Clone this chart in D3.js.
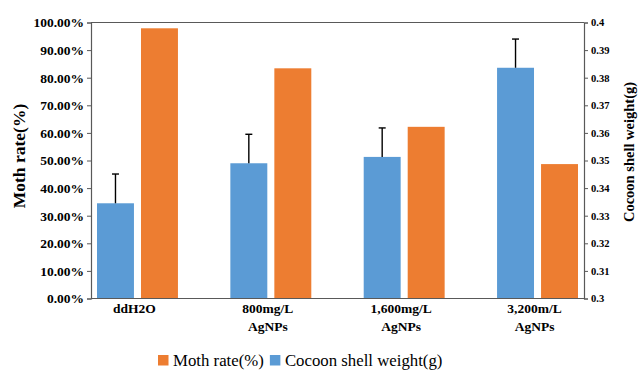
<!DOCTYPE html>
<html>
<head>
<meta charset="utf-8">
<script src="https://cdn.jsdelivr.net/npm/d3@7"></script>
<style>
  body { margin: 0; background: #fff; }
  svg { display: block; font-family: "Liberation Serif", "Times New Roman", serif; }
</style>
</head>
<body>
<div id="chart"></div>
<script>
// data
const categories = ["ddH2O", "800mg/L\nAgNPs", "1,600mg/L\nAgNPs", "3,200m/L\nAgNPs"];
const mothRate = [97.9, 83.4, 62.2, 48.7];               // %
const shellWeight = [0.3345, 0.349, 0.3513, 0.3836];     // g
const shellErr = [0.0106, 0.0105, 0.0105, 0.0104];
const leftTicks = [0, 10, 20, 30, 40, 50, 60, 70, 80, 90, 100];
const rightTicks = [0.3, 0.31, 0.32, 0.33, 0.34, 0.35, 0.36, 0.37, 0.38, 0.39, 0.4];

const blue = "#5B9BD5", orange = "#ED7D31", axisCol = "#595959";
const W = 639, H = 370;
const m = {top: 22.5, right: 55, bottom: 71.5, left: 91};

const svg = d3.select("#chart").append("svg")
    .attr("width", W).attr("height", H);

const x0 = d3.scaleBand()
    .domain(categories)
    .range([m.left, W - m.right])
    .paddingInner(0.393)
    .paddingOuter(0.045);

const x1 = d3.scaleBand()
    .domain(["weight", "moth"])
    .range([0, x0.bandwidth()])
    .paddingInner(0.16);

const yL = d3.scaleLinear().domain([0, 100]).range([H - m.bottom, m.top]);
const yR = d3.scaleLinear().domain([0.3, 0.4]).range([H - m.bottom, m.top]);

const rows = categories.map((c, i) => ({c, moth: mothRate[i], w: shellWeight[i], e: shellErr[i]}));

// bars
const g = svg.append("g").selectAll("g")
    .data(rows)
    .enter()
    .append("g")
    .attr("transform", d => `translate(${x0(d.c)},0)`);

g.append("rect")
    .attr("x", x1("weight"))
    .attr("width", x1.bandwidth())
    .attr("y", d => yR(d.w))
    .attr("height", d => yR(0.3) - yR(d.w))
    .attr("fill", blue);

g.append("rect")
    .attr("x", x1("moth"))
    .attr("width", x1.bandwidth())
    .attr("y", d => yL(d.moth))
    .attr("height", d => yL(0) - yL(d.moth))
    .attr("fill", orange);

// error bars
const cx = x1("weight") + x1.bandwidth() / 2;
g.append("line")
    .attr("x1", cx).attr("x2", cx)
    .attr("y1", d => yR(d.w))
    .attr("y2", d => yR(d.w + d.e))
    .attr("stroke", "#000").attr("stroke-width", 1.4);
g.append("line")
    .attr("x1", cx - 3.5).attr("x2", cx + 3.5)
    .attr("y1", d => yR(d.w + d.e))
    .attr("y2", d => yR(d.w + d.e))
    .attr("stroke", "#000").attr("stroke-width", 1.4);

// top frame line
svg.append("line")
    .attr("x1", m.left).attr("x2", W - m.right)
    .attr("y1", yL(100)).attr("y2", yL(100))
    .attr("stroke", axisCol).attr("stroke-width", 1);

// bottom line
svg.append("line")
    .attr("x1", m.left).attr("x2", W - m.right)
    .attr("y1", yL(0)).attr("y2", yL(0))
    .attr("stroke", axisCol).attr("stroke-width", 1.2);

// left axis
const axL = svg.append("g")
    .attr("transform", `translate(${m.left},0)`)
    .call(d3.axisLeft(yL).tickValues(leftTicks).tickSize(4).tickPadding(3)
        .tickFormat(d => d.toFixed(2) + "%"));
axL.selectAll("text")
    .attr("font-family", "Liberation Serif")
    .attr("font-weight", "bold")
    .attr("font-size", 13.5)
    .attr("fill", "#000");

// right axis
const axR = svg.append("g")
    .attr("transform", `translate(${W - m.right},0)`)
    .call(d3.axisRight(yR).tickValues(rightTicks).tickSize(4).tickPadding(3)
        .tickFormat(d3.format("")));
axR.selectAll("text")
    .attr("font-family", "Liberation Serif")
    .attr("font-weight", "bold")
    .attr("font-size", 10.5)
    .attr("fill", "#000");

[axL, axR].forEach(a => {
    a.select(".domain").attr("stroke", axisCol).attr("stroke-width", 1.2);
    a.selectAll(".tick line").attr("stroke", axisCol);
});

// category labels
const labX = d => x0(d) + x0.bandwidth() / 2 - 3;
svg.append("g").selectAll("text")
    .data(categories)
    .enter()
    .append("text")
    .attr("x", labX)
    .attr("y", 313)
    .attr("text-anchor", "middle")
    .attr("font-weight", "bold")
    .attr("font-size", 13.5)
    .each(function(d) {
        d.split("\n").forEach((t, i) => {
            d3.select(this).append("tspan")
                .attr("x", labX(d))
                .attr("dy", i ? 18 : 0)
                .text(t);
        });
    });

// axis titles
svg.append("text")
    .attr("transform", `translate(25,156) rotate(-90)`)
    .attr("text-anchor", "middle")
    .attr("font-weight", "bold")
    .attr("font-size", 17.5)
    .text("Moth rate(%)");

svg.append("text")
    .attr("transform", `translate(634,152) rotate(-90)`)
    .attr("text-anchor", "middle")
    .attr("font-weight", "bold")
    .attr("font-size", 14.5)
    .text("Cocoon shell weight(g)");

// legend
const legend = [{name: "Moth rate(%)", color: orange}, {name: "Cocoon shell weight(g)", color: blue}];
const lg = svg.append("g").attr("transform", "translate(158,355)");
let lx = 0;
legend.forEach(l => {
    lg.append("rect").attr("x", lx).attr("y", 0).attr("width", 10.5).attr("height", 10.5).attr("fill", l.color);
    const t = lg.append("text").attr("x", lx + 15).attr("y", 10.5)
        .attr("font-size", 16.8).text(l.name);
    lx += 15 + t.node().getComputedTextLength() + 6;
});
</script>
</body>
</html>
